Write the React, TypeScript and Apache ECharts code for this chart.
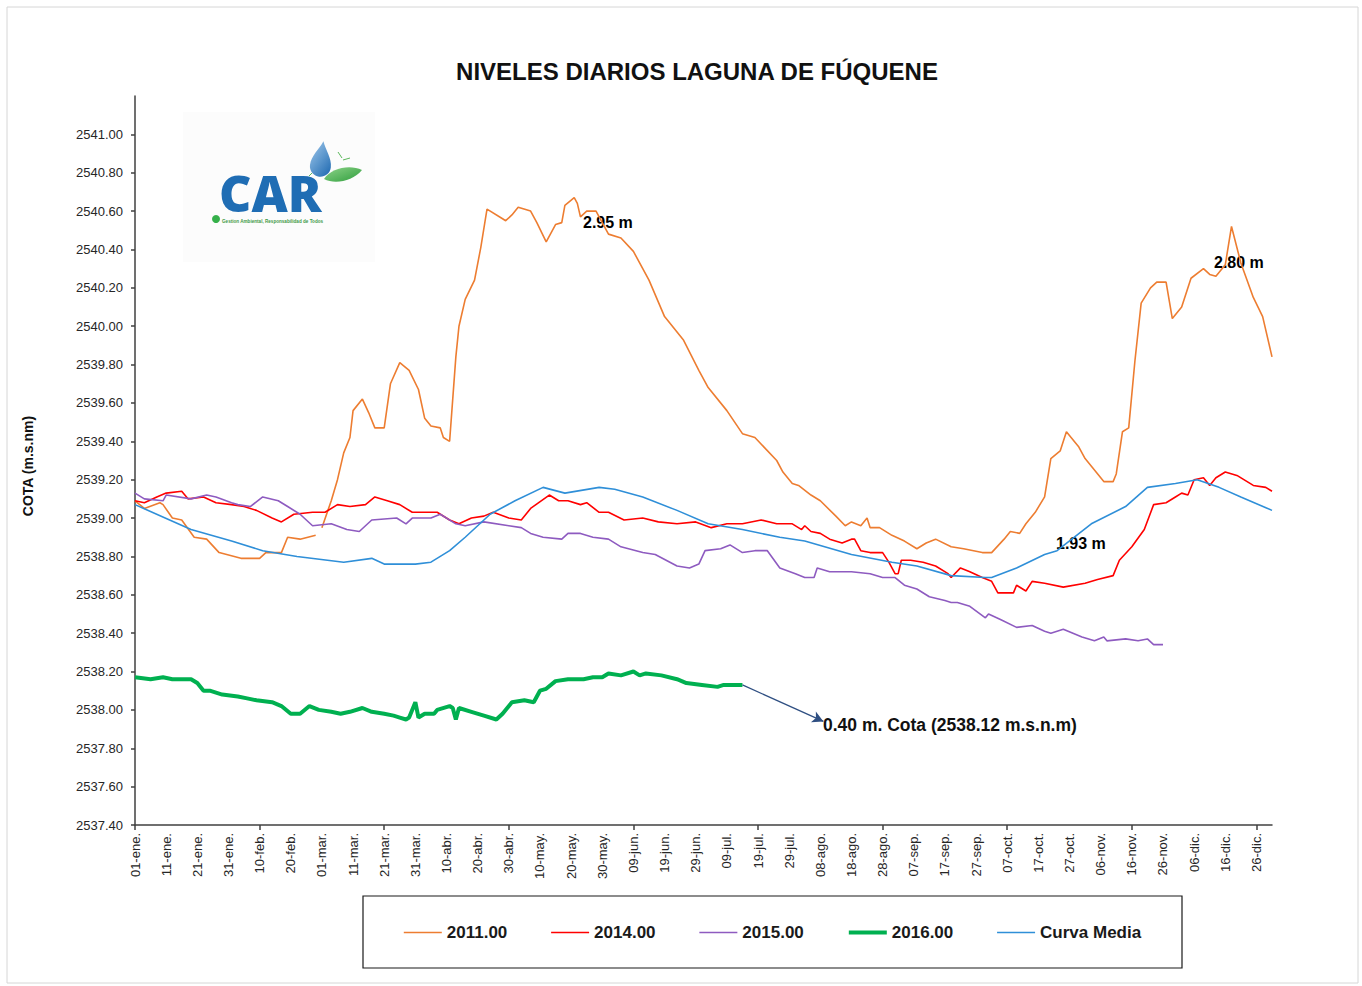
import React, { useEffect, useRef } from "react";
import * as echarts from "echarts";

// ---------- categories (days of a leap year, Spanish month abbreviations) ----------
const MONTHS = ["ene", "feb", "mar", "abr", "may", "jun", "jul", "ago", "sep", "oct", "nov", "dic"];
const MONTH_DAYS = [31, 29, 31, 30, 31, 30, 31, 31, 30, 31, 30, 31];
const CATEGORIES: string[] = [];
MONTHS.forEach((m, i) => {
  for (let d = 1; d <= MONTH_DAYS[i]; d++) CATEGORIES.push(`${String(d).padStart(2, "0")}-${m}.`);
});

// ---------- axis ----------
const Y_MIN = 2537.4;
const Y_MAX = 2541.2;
const Y_STEP = 0.2;

// ---------- series (day index of year, value in m.s.n.m) ----------
const DAYS_2011 = [0, 3, 8, 9, 12, 15, 19, 23, 27, 34, 40, 42, 47, 49, 53, 58, 59, 60, 63, 65, 67, 69, 70, 73, 75, 77, 80, 82, 85, 88, 91, 93, 95, 98, 99, 101, 103, 104, 106, 109, 111, 113, 118, 119, 121, 123, 127, 129, 132, 135, 137, 138, 141, 142, 143, 145, 148, 152, 156, 160, 165, 170, 176, 181, 184, 190, 195, 199, 206, 208, 211, 213, 217, 220, 225, 228, 230, 233, 235, 236, 239, 243, 247, 251, 254, 257, 262, 266, 272, 275, 279, 281, 284, 286, 289, 292, 294, 297, 299, 303, 305, 311, 314, 315, 317, 319, 321, 323, 326, 328, 331, 333, 336, 339, 343, 345, 347, 350, 352, 355, 359, 362, 365];
const VALS_2011 = [2539.09, 2539.05, 2539.08, 2539.07, 2539.0, 2538.99, 2538.9, 2538.89, 2538.82, 2538.79, 2538.79, 2538.82, 2538.82, 2538.9, 2538.89, 2538.91, null, 2538.95, 2539.09, 2539.2, 2539.34, 2539.42, 2539.56, 2539.62, 2539.55, 2539.47, 2539.47, 2539.7, 2539.81, 2539.77, 2539.67, 2539.52, 2539.48, 2539.47, 2539.42, 2539.4, 2539.84, 2540.0, 2540.14, 2540.24, 2540.41, 2540.61, 2540.56, 2540.55, 2540.58, 2540.62, 2540.6, 2540.54, 2540.44, 2540.53, 2540.54, 2540.63, 2540.67, 2540.64, 2540.57, 2540.6, 2540.6, 2540.48, 2540.46, 2540.39, 2540.24, 2540.05, 2539.93, 2539.77, 2539.68, 2539.56, 2539.44, 2539.42, 2539.3, 2539.24, 2539.18, 2539.17, 2539.12, 2539.09, 2539.01, 2538.96, 2538.98, 2538.96, 2539.0, 2538.95, 2538.95, 2538.91, 2538.88, 2538.84, 2538.87, 2538.89, 2538.85, 2538.84, 2538.82, 2538.82, 2538.89, 2538.93, 2538.92, 2538.97, 2539.03, 2539.11, 2539.31, 2539.35, 2539.45, 2539.37, 2539.31, 2539.19, 2539.19, 2539.23, 2539.45, 2539.47, 2539.82, 2540.12, 2540.2, 2540.23, 2540.23, 2540.04, 2540.1, 2540.25, 2540.3, 2540.27, 2540.26, 2540.32, 2540.52, 2540.33, 2540.15, 2540.05, 2539.84];

const DAYS_2014 = [0, 3, 7, 10, 15, 17, 22, 26, 31, 35, 39, 44, 47, 51, 57, 61, 65, 69, 74, 77, 81, 85, 89, 93, 97, 101, 104, 108, 112, 115, 120, 124, 127, 133, 136, 139, 143, 145, 149, 152, 157, 163, 168, 174, 180, 185, 190, 195, 201, 206, 211, 214, 215, 217, 220, 223, 227, 230, 231, 233, 236, 240, 242, 244, 245, 246, 249, 253, 257, 261, 262, 265, 268, 272, 275, 277, 280, 282, 283, 286, 288, 292, 298, 305, 309, 314, 316, 320, 324, 327, 331, 334, 336, 338, 340, 343, 345, 347, 350, 354, 359, 363, 365];
const VALS_2014 = [2539.09, 2539.08, 2539.11, 2539.13, 2539.14, 2539.1, 2539.11, 2539.08, 2539.07, 2539.06, 2539.04, 2539.0, 2538.98, 2539.02, 2539.03, 2539.03, 2539.07, 2539.06, 2539.07, 2539.11, 2539.09, 2539.07, 2539.03, 2539.03, 2539.03, 2538.99, 2538.97, 2539.0, 2539.01, 2539.03, 2539.0, 2538.99, 2539.05, 2539.12, 2539.09, 2539.09, 2539.07, 2539.08, 2539.03, 2539.03, 2538.99, 2539.0, 2538.98, 2538.97, 2538.98, 2538.95, 2538.97, 2538.97, 2538.99, 2538.97, 2538.97, 2538.94, 2538.96, 2538.93, 2538.92, 2538.89, 2538.87, 2538.89, 2538.89, 2538.83, 2538.82, 2538.82, 2538.77, 2538.71, 2538.71, 2538.78, 2538.78, 2538.77, 2538.75, 2538.71, 2538.69, 2538.74, 2538.72, 2538.69, 2538.67, 2538.61, 2538.61, 2538.61, 2538.65, 2538.62, 2538.67, 2538.66, 2538.64, 2538.66, 2538.68, 2538.7, 2538.78, 2538.85, 2538.94, 2539.07, 2539.08, 2539.11, 2539.13, 2539.12, 2539.2, 2539.21, 2539.17, 2539.21, 2539.24, 2539.22, 2539.17, 2539.16, 2539.14];

const DAYS_2015 = [0, 3, 9, 10, 18, 23, 26, 31, 33, 37, 41, 46, 49, 53, 57, 63, 68, 72, 76, 84, 87, 89, 95, 98, 103, 106, 112, 120, 124, 127, 131, 137, 139, 143, 147, 152, 156, 163, 167, 174, 178, 181, 183, 188, 191, 195, 199, 203, 207, 212, 215, 218, 219, 223, 230, 236, 240, 244, 247, 251, 255, 260, 262, 264, 268, 273, 274, 278, 283, 288, 292, 294, 298, 304, 308, 311, 312, 318, 322, 325, 327, 330];
const VALS_2015 = [2539.13, 2539.1, 2539.09, 2539.12, 2539.1, 2539.12, 2539.11, 2539.08, 2539.07, 2539.06, 2539.11, 2539.09, 2539.06, 2539.02, 2538.96, 2538.97, 2538.94, 2538.93, 2538.99, 2539.0, 2538.97, 2539.0, 2539.0, 2539.02, 2538.97, 2538.96, 2538.98, 2538.96, 2538.95, 2538.92, 2538.9, 2538.89, 2538.92, 2538.92, 2538.9, 2538.89, 2538.85, 2538.82, 2538.81, 2538.75, 2538.74, 2538.76, 2538.83, 2538.84, 2538.86, 2538.82, 2538.83, 2538.83, 2538.74, 2538.71, 2538.69, 2538.69, 2538.74, 2538.72, 2538.72, 2538.71, 2538.69, 2538.69, 2538.65, 2538.63, 2538.59, 2538.57, 2538.56, 2538.56, 2538.54, 2538.48, 2538.5, 2538.47, 2538.43, 2538.44, 2538.41, 2538.4, 2538.42, 2538.38, 2538.36, 2538.38, 2538.36, 2538.37, 2538.36, 2538.37, 2538.34, 2538.34];

const DAYS_2016 = [0, 5, 9, 12, 18, 20, 22, 24, 28, 33, 36, 39, 44, 47, 50, 53, 56, 59, 63, 66, 69, 73, 76, 80, 83, 85, 87, 88, 90, 91, 93, 96, 97, 101, 102, 103, 104, 108, 112, 116, 118, 121, 125, 128, 130, 132, 135, 139, 144, 147, 150, 152, 156, 160, 162, 164, 169, 174, 177, 182, 187, 189, 195];
const VALS_2016 = [2538.17, 2538.16, 2538.17, 2538.16, 2538.16, 2538.14, 2538.1, 2538.1, 2538.08, 2538.07, 2538.06, 2538.05, 2538.04, 2538.02, 2537.98, 2537.98, 2538.02, 2538.0, 2537.99, 2537.98, 2537.99, 2538.01, 2537.99, 2537.98, 2537.97, 2537.96, 2537.95, 2537.96, 2538.04, 2537.96, 2537.98, 2537.98, 2538.0, 2538.02, 2538.01, 2537.95, 2538.01, 2537.99, 2537.97, 2537.95, 2537.98, 2538.04, 2538.05, 2538.04, 2538.1, 2538.11, 2538.15, 2538.16, 2538.16, 2538.17, 2538.17, 2538.19, 2538.18, 2538.2, 2538.18, 2538.19, 2538.18, 2538.16, 2538.14, 2538.13, 2538.12, 2538.13, 2538.13];

const DAYS_MEDIA = [0, 18, 31, 41, 52, 67, 76, 80, 90, 95, 101, 106, 114, 122, 131, 138, 149, 154, 163, 174, 184, 195, 207, 215, 230, 243, 251, 262, 273, 275, 283, 292, 296, 307, 318, 325, 334, 341, 348, 355, 365];
const VALS_MEDIA = [2539.07, 2538.94, 2538.88, 2538.83, 2538.8, 2538.77, 2538.79, 2538.76, 2538.76, 2538.77, 2538.83, 2538.9, 2539.02, 2539.09, 2539.16, 2539.13, 2539.16, 2539.15, 2539.11, 2539.04, 2538.97, 2538.94, 2538.9, 2538.88, 2538.81, 2538.77, 2538.75, 2538.7, 2538.69, 2538.69, 2538.74, 2538.81, 2538.83, 2538.97, 2539.06, 2539.16, 2539.18, 2539.2, 2539.16, 2539.11, 2539.04];

// annotation arrow (from end of 2016 series to the note)
const ARROW_FROM = [195, 2538.13];
const ARROW_TO = [221, 2537.94];

const zip = (d: number[], v: (number | null)[]) => d.map((x, i) => [x, v[i]]);

const FONT = "'Liberation Sans', Arial, sans-serif";

const DROP_D = "M10 0 C13 8 20 15 20 24 C20 30 15 34 10 34 C5 34 0 30 0 24 C0 15 7 8 10 0 Z";
const LEAF_D = "M0 13 C7 2 26 -2 38 4 C29 15 11 19 0 13 Z";

export default function App() {
  const ref = useRef<HTMLDivElement>(null);
  useEffect(() => {
    document.body.style.margin = "0";
    echarts.graphic.registerShape("carDrop", echarts.graphic.extendPath(DROP_D, {}) as any);
    echarts.graphic.registerShape("carLeaf", echarts.graphic.extendPath(LEAF_D, {}) as any);
    const chart = echarts.init(ref.current!, null, { renderer: "svg" });

    const mk = (name: string, d: number[], v: (number | null)[], color: string, width: number, z = 2) => ({
      name,
      type: "line",
      data: zip(d, v),
      symbol: "none",
      connectNulls: false,
      z,
      lineStyle: { color, width },
      itemStyle: { color },
    });

    const s2016: any = mk("2016.00", DAYS_2016, VALS_2016, "#00B050", 4, 4);
    s2016.markLine = {
      silent: true,
      symbol: ["none", "arrow"],
      symbolSize: [9, 11],
      label: { show: false },
      lineStyle: { color: "#2F4F82", width: 1.3, type: "solid" },
      data: [[{ coord: ARROW_FROM }, { coord: ARROW_TO }]],
    };

    chart.setOption({
      animation: false,
      backgroundColor: "#ffffff",
      textStyle: { fontFamily: FONT },
      grid: { left: 135, right: 90, top: 96, bottom: 161 },
      legend: {
        left: 403,
        top: 924,
        padding: 0,
        itemWidth: 38,
        itemHeight: 14,
        itemGap: 43,
        itemStyle: { opacity: 0 },
        textStyle: { fontSize: 17, fontWeight: "bold", color: "#1a1a1a", fontFamily: FONT },
        data: [
          { name: "2011.00", lineStyle: { width: 1.6 } },
          { name: "2014.00", lineStyle: { width: 1.6 } },
          { name: "2015.00", lineStyle: { width: 1.6 } },
          { name: "2016.00", lineStyle: { width: 4 } },
          { name: "Curva Media", lineStyle: { width: 1.6 } },
        ],
      },
      xAxis: {
        type: "category",
        data: CATEGORIES,
        boundaryGap: false,
        axisLine: { lineStyle: { color: "#404040", width: 1.5 } },
        axisTick: { interval: 39, length: 5, lineStyle: { color: "#404040", width: 1.5 } },
        axisLabel: { interval: 9, rotate: 90, fontSize: 13, color: "#262626", margin: 8, fontFamily: FONT },
        splitLine: { show: false },
      },
      yAxis: {
        type: "value",
        min: Y_MIN,
        max: Y_MAX,
        interval: Y_STEP,
        axisLine: { show: true, lineStyle: { color: "#404040", width: 1.5 } },
        axisTick: { show: true, length: 4, lineStyle: { color: "#404040", width: 1.5 } },
        axisLabel: {
          formatter: (v: number) => v.toFixed(2),
          showMaxLabel: false,
          fontSize: 13,
          color: "#262626",
          margin: 12,
          fontFamily: FONT,
        },
        splitLine: { show: false },
      },
      series: [
        mk("2011.00", DAYS_2011, VALS_2011, "#ED7D31", 1.6),
        mk("2014.00", DAYS_2014, VALS_2014, "#FF0000", 1.6),
        mk("2015.00", DAYS_2015, VALS_2015, "#8E5BC0", 1.6),
        s2016,
        mk("Curva Media", DAYS_MEDIA, VALS_MEDIA, "#2F8FD8", 1.6, 3),
      ],
      graphic: [
        { type: "rect", shape: { x: 7, y: 7, width: 1351, height: 976 }, style: { fill: "none", stroke: "#d6d6d6", lineWidth: 1 }, silent: true },
        // logo
        { type: "rect", shape: { x: 183, y: 112, width: 192, height: 150 }, style: { fill: "#fcfcfc" }, silent: true, z: -1 },
        {
          type: "text",
          x: 219,
          y: 193,
          style: { text: "CAR", fill: "#1F6DB4", font: `800 50px 'Open Sans', ${FONT}`, lineHeight: 36, verticalAlign: "middle", align: "left" },
        },
        {
          type: "carDrop",
          x: 313,
          y: 140,
          scaleX: 1.05,
          scaleY: 1.05,
          rotation: -0.12,
          style: {
            fill: new echarts.graphic.LinearGradient(0, 0, 1, 1, [
              { offset: 0, color: "#9cc6ea" },
              { offset: 1, color: "#1d68b0" },
            ]),
          },
        },
        {
          type: "carLeaf",
          x: 324,
          y: 166,
          style: {
            fill: new echarts.graphic.LinearGradient(0, 0, 1, 1, [
              { offset: 0, color: "#8fd48a" },
              { offset: 1, color: "#2e9d3c" },
            ]),
          },
        },
        { type: "line", shape: { x1: 338, y1: 152, x2: 342, y2: 158 }, style: { stroke: "#5cb85c", lineWidth: 1 } },
        { type: "line", shape: { x1: 343, y1: 160, x2: 350, y2: 158 }, style: { stroke: "#5cb85c", lineWidth: 1 } },
        { type: "line", shape: { x1: 309, y1: 176, x2: 312, y2: 173 }, style: { stroke: "#5cb85c", lineWidth: 1 } },
        { type: "circle", shape: { cx: 216, cy: 219, r: 4 }, style: { fill: "#35b04a" } },
        {
          type: "text",
          x: 222,
          y: 221.5,
          style: { text: "Gestion Ambiental, Responsabilidad de Todos", fill: "#3f9a47", font: `bold 4.6px ${FONT}`, verticalAlign: "middle" },
        },
        // title
        {
          type: "text",
          x: 697,
          y: 71,
          style: { text: "NIVELES DIARIOS LAGUNA DE FÚQUENE", fill: "#111", font: `bold 24px ${FONT}`, align: "center", verticalAlign: "middle" },
        },
        // y axis name
        {
          type: "text",
          x: 28,
          y: 466,
          rotation: Math.PI / 2,
          style: { text: "COTA (m.s.nm)", fill: "#111", font: `bold 14px ${FONT}`, align: "center", verticalAlign: "middle" },
        },
        // annotations
        { type: "text", x: 583, y: 222, style: { text: "2.95 m", fill: "#000", font: `bold 16px ${FONT}`, verticalAlign: "middle" } },
        { type: "text", x: 1214, y: 262, style: { text: "2.80 m", fill: "#000", font: `bold 16px ${FONT}`, verticalAlign: "middle" } },
        { type: "text", x: 1056, y: 543, style: { text: "1.93 m", fill: "#000", font: `bold 16px ${FONT}`, verticalAlign: "middle" } },
        { type: "text", x: 823, y: 725, style: { text: "0.40 m. Cota (2538.12 m.s.n.m)", fill: "#111", font: `bold 17.5px ${FONT}`, verticalAlign: "middle" } },
        // legend box
        { type: "rect", shape: { x: 363, y: 896, width: 819, height: 72 }, style: { fill: "none", stroke: "#1a1a1a", lineWidth: 1.2 }, silent: true },
      ],
    });
    return () => chart.dispose();
  }, []);
  return <div ref={ref} style={{ width: 1362, height: 986 }} />;
}
